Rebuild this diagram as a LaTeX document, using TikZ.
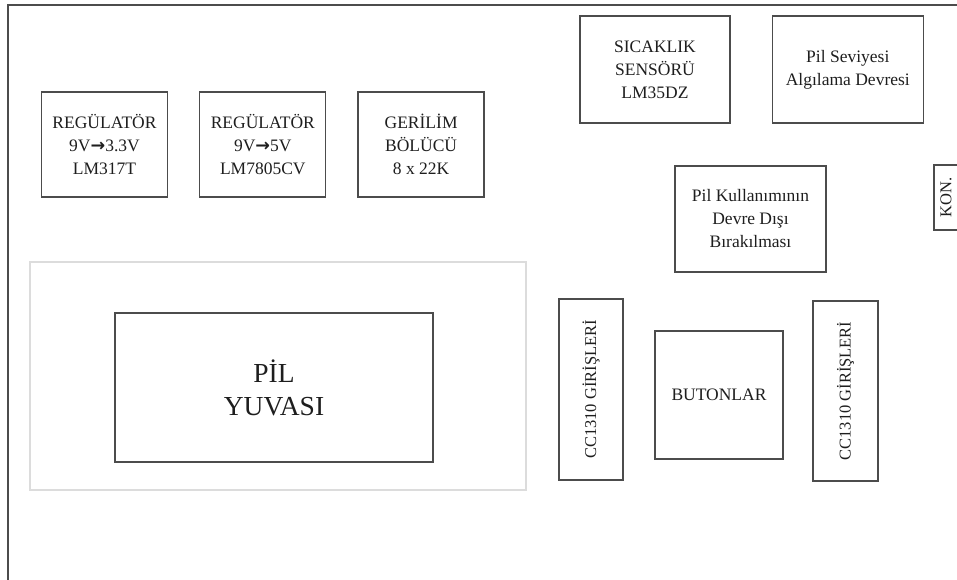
\documentclass[tikz,border=0pt]{standalone}
\usepackage{fontspec}
\setmainfont{Liberation Serif}
\newfontfamily\arrowfont{DejaVu Sans}
\usepackage{xcolor}
\usetikzlibrary{positioning}
\definecolor{boxline}{HTML}{4C4C4C}
\definecolor{trayline}{HTML}{DCDCDC}
\definecolor{boxtext}{HTML}{1E1E1E}
\newcommand{\toarrow}{{\arrowfont\bfseries →}}

\begin{document}
\begin{tikzpicture}[x=1pt,y=-1pt]
      \useasboundingbox (0,0) rectangle (957,580);
      \begin{scope}[node distance=31pt,
        block/.style={rectangle,draw=boxline,line width=1.3pt,text=boxtext,
          font=\fontsize{17.5}{23}\selectfont,align=center,inner sep=0pt,
          minimum width=126pt,minimum height=105pt},
        tray/.style={rectangle,draw=trayline,line width=1.2pt,inner sep=0pt},
        vblock/.style={block,rotate=90,font=\fontsize{16.5}{20}\selectfont}]

        % board outline (only top and left edges)
        \draw[boxline,line width=1.6pt] (8,582) -- (8,5) -- (959,5);

        \node[block] (reg_33) at (104.5,144.5) {REGÜLATÖR\\9V\toarrow3.3V\\LM317T};
        \node[block, right=of reg_33] (reg_5) {REGÜLATÖR\\9V\toarrow5V\\LM7805CV};
        \node[block, right=of reg_5] (divider) {GERİLİM\\BÖLÜCÜ\\8 x 22K};

        \node[block, minimum width=150pt, minimum height=107pt] (temp_sensor) at (655,69.5) {SICAKLIK\\SENSÖRÜ\\LM35DZ};
        \node[block, right=41pt of temp_sensor, minimum width=151pt, minimum height=107pt] (level_det) {Pil Seviyesi\\Algılama Devresi};
        \node[block, minimum width=151pt, minimum height=106pt] (bat_off) at (750.5,219) {Pil Kullanımının\\Devre Dışı\\Bırakılması};
        \node[vblock, minimum width=65pt, minimum height=24pt] (kon) at (946,197.5) {KON.};

        \node[tray, minimum width=496pt, minimum height=228pt] (bat_tray) at (278,376) {};
        \node[block, minimum width=318pt, minimum height=149pt, font=\fontsize{27.5}{33}\selectfont] (bat_holder) at (274,387.5) {PİL\\YUVASI};

        \node[vblock, minimum width=181pt, minimum height=64pt] (cc_in_left) at (591,389.5) {CC1310 GİRİŞLERİ};
        \node[block, minimum width=128pt, minimum height=128pt] (buttons) at (719,395) {BUTONLAR};
        \node[vblock, minimum width=180pt, minimum height=65pt] (cc_in_right) at (845.5,391) {CC1310 GİRİŞLERİ};
      \end{scope}
\end{tikzpicture}
\end{document}
